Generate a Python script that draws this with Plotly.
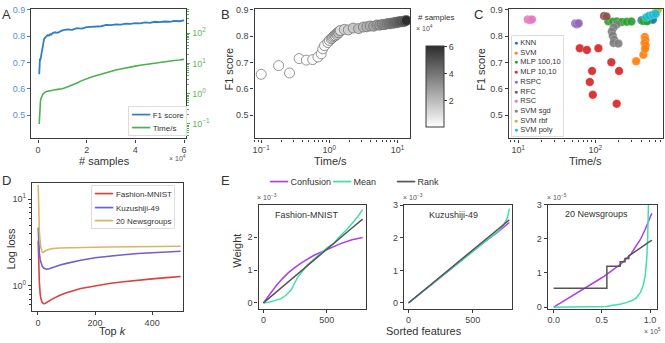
import plotly.graph_objects as go

W, H = 665, 343

# ---------------- Panel A / B : learning curve data ----------------
n_samples = [500, 600, 700, 800, 900, 1000, 1200, 1400, 1600, 1800, 2000, 2250, 2500, 2750, 3000,
             3500, 4000, 4500, 5000, 5500, 6000, 7000, 8000, 9000,
             10000, 12000, 14000, 16000, 18000, 20000, 22000, 24000, 26000, 28000, 30000,
             32000, 34000, 36000, 38000, 40000, 42000, 44000, 46000, 48000, 50000,
             52000, 54000, 56000, 58000, 60000]
f1_score = [0.655, 0.688, 0.660, 0.715, 0.709, 0.711, 0.721, 0.733, 0.752, 0.764, 0.776, 0.784, 0.790, 0.793, 0.797,
            0.800, 0.804, 0.802, 0.808, 0.806, 0.812, 0.815, 0.813, 0.819,
            0.822, 0.826, 0.824, 0.831, 0.829, 0.835, 0.836, 0.839, 0.838, 0.843, 0.842,
            0.845, 0.844, 0.848, 0.847, 0.850, 0.849, 0.853, 0.851, 0.855, 0.854,
            0.856, 0.855, 0.858, 0.857, 0.860]
time_s = [0.10, 0.18, 0.26, 0.36, 0.46, 0.57, 0.68, 0.76, 0.80, 0.85, 0.95, 1.00, 1.06, 1.10, 1.13,
          1.17, 1.20, 1.23, 1.26, 1.29, 1.31, 1.35, 1.38, 1.41,
          1.45, 1.66, 1.90, 2.24, 2.69, 3.16, 3.55, 3.98, 4.47, 5.00, 5.50,
          6.0, 6.5, 7.1, 7.6, 8.1, 8.7, 9.2, 9.8, 10.3, 10.8,
          11.3, 12.0, 12.5, 12.9, 13.5]

# ---------------- Panel C : method comparison ----------------
c_names = ["KNN", "SVM", "MLP 100,10", "MLP 10,10", "RSPC", "RFC", "RSC", "SVM sgd", "SVM rbf", "SVM poly"]
c_colors = ["#1f77b4", "#ff7f0e", "#2ca02c", "#d62728", "#9467bd", "#8c564b", "#e377c2", "#7f7f7f", "#bcbd22", "#17becf"]
knn_time = [400, 440, 480, 520, 560]
knn_f1 = [0.861, 0.864, 0.862, 0.865, 0.863]
svm_time = [340, 422, 440, 448, 436, 452, 444]
svm_f1 = [0.705, 0.729, 0.797, 0.786, 0.774, 0.764, 0.752]
mlp100_time = [148, 170, 191, 221, 257, 295, 420, 470]
mlp100_f1 = [0.857, 0.855, 0.856, 0.854, 0.855, 0.856, 0.858, 0.857]
mlp10_time = [63, 78, 110, 162, 91, 204, 85, 93, 190]
mlp10_f1 = [0.754, 0.748, 0.754, 0.701, 0.668, 0.668, 0.626, 0.577, 0.543]
rspc_time = [55, 58, 61]
rspc_f1 = [0.848, 0.846, 0.849]
rfc_time = [130, 140]
rfc_f1 = [0.877, 0.875]
rsc_time = [13.3, 14.2, 15.1]
rsc_f1 = [0.864, 0.862, 0.864]
sgd_time = [190, 173, 164, 169, 176, 173, 200]
sgd_f1 = [0.845, 0.833, 0.818, 0.802, 0.787, 0.774, 0.772]
rbf_time = [620, 650]
rbf_f1 = [0.895, 0.902]
poly_time = [460, 500, 560, 610]
poly_f1 = [0.872, 0.878, 0.882, 0.885]
c_time = [knn_time, svm_time, mlp100_time, mlp10_time, rspc_time, rfc_time, rsc_time, sgd_time, rbf_time, poly_time]
c_f1 = [knn_f1, svm_f1, mlp100_f1, mlp10_f1, rspc_f1, rfc_f1, rsc_f1, sgd_f1, rbf_f1, poly_f1]

# ---------------- Panel D : log loss vs top k ----------------
d_names = ["Fashion-MNIST", "Kuzushiji-49", "20 Newsgroups"]
top_k = [1, 2, 3, 5, 8, 10, 15, 20, 25, 30, 40, 50, 75, 100, 150, 200, 250, 300, 350, 400, 450, 500]
loss_fashion = [3.3, 2.1, 1.55, 1.1, 0.80, 0.72, 0.64, 0.62, 0.625, 0.64, 0.67, 0.70, 0.77, 0.83, 0.93,
                1.00, 1.06, 1.11, 1.16, 1.20, 1.24, 1.28]
loss_kuzushiji = [4.7, 3.6, 3.0, 2.4, 2.0, 1.85, 1.68, 1.60, 1.56, 1.55, 1.57, 1.62, 1.72, 1.81, 1.97,
                  2.10, 2.20, 2.28, 2.35, 2.41, 2.46, 2.50]
loss_news = [14.5, 9.0, 6.5, 4.3, 3.2, 2.8, 2.45, 2.42, 2.50, 2.57, 2.64, 2.68, 2.72, 2.74, 2.76,
             2.78, 2.80, 2.81, 2.83, 2.84, 2.85, 2.86]

# ---------------- Panel E : feature weights ----------------
e_names = ["Confusion", "Mean", "Rank"]
# Fashion-MNIST (weights in units of 1e-3)
e1_rank_x = [0, 100, 200, 300, 400, 500, 600, 700, 784]
e1_rank_w = [0, 0.33, 0.65, 0.98, 1.30, 1.63, 1.95, 2.28, 2.55]
e1_conf_x = [0, 50, 100, 150, 200, 250, 300, 400, 500, 600, 700, 784]
e1_conf_w = [0, 0.28, 0.52, 0.74, 0.93, 1.08, 1.22, 1.45, 1.63, 1.79, 1.92, 1.99]
e1_mean_x = [0, 40, 90, 140, 180, 220, 270, 350, 430, 510, 560, 590, 670, 745, 784]
e1_mean_w = [0, 0.02, 0.07, 0.13, 0.24, 0.40, 0.78, 1.17, 1.43, 1.70, 1.82, 1.97, 2.28, 2.62, 2.84]
# Kuzushiji-49 (weights in units of 1e-3)
e2_rank_x = [0, 100, 200, 300, 400, 500, 600, 700, 784]
e2_rank_w = [0, 0.33, 0.65, 0.98, 1.30, 1.63, 1.95, 2.28, 2.55]
e2_conf_x = [0, 100, 200, 300, 400, 500, 600, 700, 784]
e2_conf_w = [0, 0.31, 0.63, 0.95, 1.27, 1.59, 1.90, 2.20, 2.47]
e2_mean_x = [0, 100, 200, 300, 400, 500, 600, 700, 740, 770, 784]
e2_mean_w = [0, 0.32, 0.64, 0.96, 1.28, 1.60, 1.92, 2.22, 2.40, 2.62, 2.90]
# 20 Newsgroups (features in units of 1e5, weights in units of 1e-5)
e3_rank_x = [0, 0.552, 0.552, 0.69, 0.69, 0.74, 0.74, 0.78, 0.78, 1.018]
e3_rank_w = [0.55, 0.55, 1.20, 1.20, 1.33, 1.33, 1.42, 1.42, 1.50, 1.96]
e3_conf_x = [0, 0.1, 0.2, 0.3, 0.4, 0.5, 0.6, 0.7, 0.8, 0.9, 0.95, 1.018]
e3_conf_w = [0, 0.17, 0.35, 0.52, 0.68, 0.86, 1.06, 1.27, 1.55, 1.98, 2.28, 2.75]
e3_mean_x = [0, 0.2, 0.4, 0.55, 0.6, 0.7, 0.76, 0.82, 0.86, 0.9, 0.93, 0.95, 0.965, 0.975, 0.983, 0.99, 1.018]
e3_mean_w = [0.0, 0.01, 0.015, 0.02, 0.05, 0.09, 0.14, 0.20, 0.28, 0.43, 0.65, 0.92, 1.4, 2.0, 3.0, 4.5, 10]

# ---------------- styling helpers ----------------
FONT = "Liberation Sans, Arial, sans-serif"
FRAME = "#3a3a3a"
TXT = "#333333"
TICKFONT = dict(family=FONT, size=9, color="#444444")
BLUE_A = "#2f7fc4"
GREEN_A = "#4caf50"
D_COLORS = ["#d9423f", "#6f5fd0", "#d6b864"]
E_COLORS = ["#b03cf0", "#3ee0a8", "#555555"]


def px_x(x):
    return x / W


def px_y(y):
    return 1 - y / H


def dom_x(a, b):
    return [a / W, b / W]


def dom_y(top, bottom):
    return [1 - bottom / H, 1 - top / H]


LOG_MINOR = [m * 10.0 ** e for e in range(-2, 4) for m in range(2, 10)]


def ax(**kw):
    d = dict(showline=True, linecolor=FRAME, linewidth=1.3, mirror=True,
             ticks="outside", ticklen=3, tickwidth=1, tickcolor=FRAME,
             showgrid=False, zeroline=False, tickfont=TICKFONT)
    d.update(kw)
    return d


def sup(e):
    return "10<sup>" + str(e).replace("-", "\u2212") + "</sup>"


fig = go.Figure()

# ---- A ----
fig.add_trace(go.Scatter(x=n_samples, y=f1_score, mode="lines", name="F1 score", showlegend=False,
                         line=dict(color=BLUE_A, width=1.8), xaxis="x", yaxis="y"))
fig.add_trace(go.Scatter(x=n_samples, y=time_s, mode="lines", name="Time/s", showlegend=False,
                         line=dict(color=GREEN_A, width=1.6), xaxis="x", yaxis="y2"))

# ---- B ----
fig.add_trace(go.Scatter(
    x=time_s, y=f1_score, mode="markers", showlegend=False, xaxis="x2", yaxis="y3",
    marker=dict(size=10, color=n_samples, cmin=0, cmax=60000,
                colorscale=[[0, "#ffffff"], [1, "#2e2e2e"]],
                line=dict(color="rgba(110,110,110,0.9)", width=0.8),
                colorbar=dict(x=px_x(415), xanchor="left", y=px_y(136), yanchor="bottom",
                              len=(136 - 32) / H, lenmode="fraction", thickness=18,
                              outlinecolor=FRAME, outlinewidth=1,
                              tickvals=[20000, 40000, 60000], ticktext=["2", "4", "6"],
                              ticks="outside", ticklen=3, tickcolor=FRAME,
                              tickfont=TICKFONT))))

# ---- C ----
for name, col, tt, ff in zip(c_names, c_colors, c_time, c_f1):
    fig.add_trace(go.Scatter(x=tt, y=ff, mode="markers", name=name, showlegend=False,
                             marker=dict(size=8.5, color=col, opacity=0.92,
                                         line=dict(color="rgba(255,255,255,0.5)", width=0.5)),
                             xaxis="x3", yaxis="y4"))

# ---- D ----
for name, col, vals in zip(d_names, D_COLORS, [loss_fashion, loss_kuzushiji, loss_news]):
    fig.add_trace(go.Scatter(x=top_k, y=vals, mode="lines", name=name, showlegend=False,
                             line=dict(color=col, width=1.6), xaxis="x4", yaxis="y5"))

# ---- E ----
panels = [("x5", "y6", [(e1_conf_x, e1_conf_w), (e1_mean_x, e1_mean_w), (e1_rank_x, e1_rank_w)]),
          ("x6", "y7", [(e2_conf_x, e2_conf_w), (e2_mean_x, e2_mean_w), (e2_rank_x, e2_rank_w)]),
          ("x7", "y8", [(e3_conf_x, e3_conf_w), (e3_mean_x, e3_mean_w), (e3_rank_x, e3_rank_w)])]
for xa, ya, series in panels:
    for name, col, (sx, sw) in zip(e_names, E_COLORS, series):
        fig.add_trace(go.Scatter(x=sx, y=sw, mode="lines", name=name, showlegend=False,
                                 line=dict(color=col, width=1.5), xaxis=xa, yaxis=ya))

# ---------------- layout ----------------
A_top, A_bot = 4, 137
fl_ticks = [0.5, 0.6, 0.7, 0.8, 0.9]
fl_text = ["0.5", "0.6", "0.7", "0.8", "0.9"]
layout = dict(
    width=W, height=H, margin=dict(l=0, r=0, t=0, b=0),
    paper_bgcolor="white", plot_bgcolor="white", showlegend=False,
    font=dict(family=FONT, color=TXT),
    xaxis=ax(domain=dom_x(29.3, 185), anchor="y", range=[-2800, 61000],
             tickvals=[0, 20000, 40000, 60000], ticktext=["0", "2", "4", "6"]),
    yaxis=ax(domain=dom_y(A_top, A_bot), anchor="x", range=[0.411, 0.904],
             tickvals=fl_ticks, ticktext=fl_text, tickcolor=BLUE_A,
             tickfont=dict(family=FONT, size=9, color="#5b8fd4")),
    yaxis2=ax(overlaying="y", side="right", anchor="x", type="log", range=[-1.48, 2.8],
              showline=False, mirror=False,
              tickvals=[0.1, 1, 10, 100], ticktext=[sup(-1), sup(0), sup(1), sup(2)],
              tickcolor=GREEN_A, tickfont=dict(family=FONT, size=9, color="#5cb85c"),
              minor=dict(ticks="outside", ticklen=2, tickcolor=GREEN_A, tickvals=LOG_MINOR)),
    xaxis2=ax(domain=dom_x(253.3, 409.3), anchor="y3", type="log", range=[-1.098, 1.185],
              tickvals=[0.1, 1, 10], ticktext=[sup(-1), sup(0), sup(1)],
              minor=dict(ticks="outside", ticklen=2, tickcolor=FRAME, tickvals=LOG_MINOR)),
    yaxis3=ax(domain=dom_y(A_top, A_bot), anchor="x2", range=[0.411, 0.904],
              tickvals=fl_ticks, ticktext=fl_text),
    xaxis3=ax(domain=dom_x(508.3, 662.7), anchor="y4", type="log", range=[0.878, 2.876],
              tickvals=[10, 100], ticktext=[sup(1), sup(2)],
              minor=dict(ticks="outside", ticklen=2, tickcolor=FRAME, tickvals=LOG_MINOR)),
    yaxis4=ax(domain=dom_y(A_top, A_bot), anchor="x3", range=[0.411, 0.904],
              tickvals=fl_ticks, ticktext=fl_text),
    xaxis4=ax(domain=dom_x(30, 181.7), anchor="y5", range=[-21, 508.6], tickvals=[0, 200, 400]),
    yaxis5=ax(domain=dom_y(183.3, 314), anchor="x4", type="log", range=[-0.289, 1.18],
              tickvals=[1, 10], ticktext=[sup(0), sup(1)],
              minor=dict(ticks="outside", ticklen=2, tickcolor=FRAME, tickvals=LOG_MINOR)),
    xaxis5=ax(domain=dom_x(257.3, 365), anchor="y6", range=[-39, 810], tickvals=[0, 500]),
    yaxis6=ax(domain=dom_y(205, 311.7), anchor="x5", range=[-0.17, 2.99], tickvals=[0, 1, 2]),
    xaxis6=ax(domain=dom_x(403.3, 511.7), anchor="y7", range=[-34, 806], tickvals=[0, 500]),
    yaxis7=ax(domain=dom_y(205, 311.7), anchor="x6", range=[-0.17, 3.02], tickvals=[0, 1, 2, 3]),
    xaxis7=ax(domain=dom_x(547.3, 656.7), anchor="y8", range=[-0.062, 1.069],
              tickvals=[0, 0.5, 1.0], ticktext=["0.0", "0.5", "1.0"]),
    yaxis8=ax(domain=dom_y(205, 311.7), anchor="x7", range=[-0.04, 3.0], tickvals=[0, 1, 2, 3]),
)
fig.update_layout(**layout)

# ---------------- text annotations ----------------
ann = []


def text(x, y, s, size=11, angle=0, xanchor="center", yanchor="middle", color=TXT, **kw):
    d = dict(x=px_x(x), y=px_y(y), xref="paper", yref="paper", text=s, showarrow=False,
             textangle=angle, xanchor=xanchor, yanchor=yanchor,
             font=dict(family=FONT, size=size, color=color))
    d.update(kw)
    ann.append(d)


def item(glyph, col, label, glyph_size=10, label_size=8):
    return ("<span style='color:%s;font-size:%dpx'>%s</span> <span style='font-size:%spx'>%s</span>"
            % (col, glyph_size, glyph, label_size, label))


def box_legend(x, y, names, colors, glyph, line_h, label_size=8, glyph_size=10):
    lines = [item(glyph, c, n, glyph_size, label_size) for n, c in zip(names, colors)]
    ann.append(dict(x=px_x(x), y=px_y(y), xref="paper", yref="paper", xanchor="left", yanchor="top",
                    text="<br>".join(lines), showarrow=False, align="left",
                    font=dict(family=FONT, size=line_h / 1.3, color=TXT),
                    bgcolor="rgba(255,255,255,0.9)", bordercolor="#dddddd", borderwidth=1,
                    borderpad=2))


LINE_GLYPH = "\u2501\u2501\u2501"

# panel letters
text(5, 10, "A", size=13)
text(224, 10, "B", size=13)
text(478, 10, "C", size=13)
text(5, 180, "D", size=13)
text(224, 180, "E", size=13)
# axis titles
text(103, 160, "# samples")
text(176, 157, "\u00d7 10<sup>4</sup>", size=7, color="#555")
text(228, 66, "F1 score", angle=-90)
text(329, 160, "Time/s")
text(435, 13, "# samples", size=8)
text(424, 24, "\u00d7 10<sup>4</sup>", size=7, color="#555")
text(481, 66, "F1 score", angle=-90)
text(585, 160, "Time/s")
text(9, 250, "Log loss", angle=-90)
text(111, 335, "Top <i>k</i>")
text(236, 252, "Weight", angle=-90)
text(423, 335, "Sorted features")
text(266, 197, "\u00d7 10<sup>\u22123</sup>", size=7, color="#555")
text(412, 197, "\u00d7 10<sup>\u22123</sup>", size=7, color="#555")
text(557, 197, "\u00d7 10<sup>\u22125</sup>", size=7, color="#555")
text(652, 335, "\u00d7 10<sup>5</sup>", size=7, color="#555")
# panel E subplot titles
text(306, 216, "Fashion-MNIST", size=9)
text(453, 216, "Kuzushiji-49", size=9)
text(596, 215, "20 Newsgroups", size=9)

# legends (compact, text based)
box_legend(126, 104, ["F1 score", "Time/s"], [BLUE_A, GREEN_A], LINE_GLYPH, 12.5)
box_legend(511, 31, c_names, c_colors, "\u25cf", 9.7, label_size=7.5, glyph_size=7)
box_legend(89, 185, d_names, D_COLORS, LINE_GLYPH, 13.5)
for xpos, name, col in zip([266, 329, 393], e_names, E_COLORS):
    text(xpos, 181, item(LINE_GLYPH, col, name, 10, 9), size=9, xanchor="left")

fig.update_layout(annotations=ann)
fig.write_html("out.html", config={"displayModeBar": False},
               post_script="document.body.style.margin='0px';document.body.style.padding='0px';")
